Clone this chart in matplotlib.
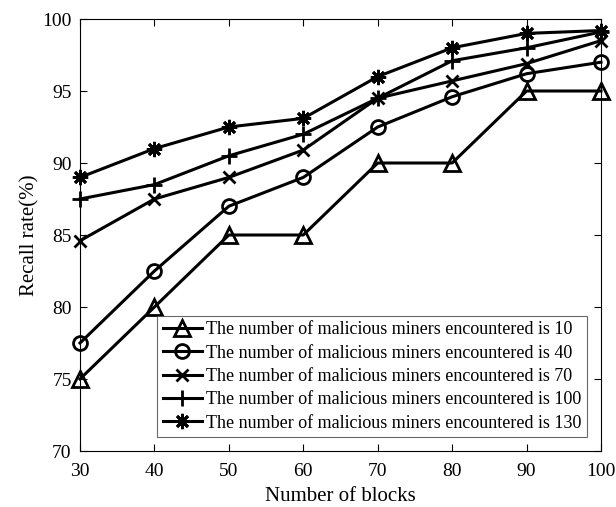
import matplotlib
matplotlib.use("Agg")
import matplotlib.pyplot as plt

plt.rcParams['font.family'] = ['Liberation Serif', 'DejaVu Serif']

blocks = [30, 40, 50, 60, 70, 80, 90, 100]
miners_10 = [75, 80, 85, 85, 90, 90, 95, 95]
miners_40 = [77.5, 82.5, 87, 89, 92.5, 94.6, 96.2, 97]
miners_70 = [84.6, 87.5, 89, 90.9, 94.5, 95.7, 96.9, 98.5]
miners_100 = [87.5, 88.5, 90.5, 92, 94.5, 97.1, 98, 99.1]
miners_130 = [89, 91, 92.5, 93.1, 96, 98, 99, 99.2]
labels = ["The number of malicious miners encountered is 10",
          "The number of malicious miners encountered is 40",
          "The number of malicious miners encountered is 70",
          "The number of malicious miners encountered is 100",
          "The number of malicious miners encountered is 130"]

fig = plt.figure(figsize=(6.16, 5.07), dpi=100)
ax = fig.add_axes([80/616, 1-451/507, (601-80)/616, (451-19)/507])

series = [miners_10, miners_40, miners_70, miners_100, miners_130]
markers = ['^', 'o', 'x', '+', (8, 2, 0)]
msizes = [12, 10, 8, 12, 11]
for s, m, ms, lab in zip(series, markers, msizes, labels):
    ax.plot(blocks, s, color='black', lw=2.2, marker=m, markersize=ms,
            markerfacecolor='none', markeredgecolor='black', markeredgewidth=2,
            label=lab, clip_on=False)

ax.set_xlim(30, 100)
ax.set_ylim(70, 100)
ax.set_xticks(range(30, 101, 10))
ax.set_yticks(range(70, 101, 5))
ax.tick_params(direction='in', top=True, right=True, labelsize=14, length=5, width=0.8)
ax.tick_params(axis='x', pad=9)
ax.tick_params(axis='y', pad=6)
for sp in ax.spines.values():
    sp.set_linewidth(0.8)
ax.set_xlabel("Number of blocks", fontsize=15, labelpad=5)
ax.set_ylabel("Recall rate(%)", fontsize=15, labelpad=2)
leg = ax.legend(loc='lower right', bbox_to_anchor=((587-80)/521, (451-437)/432), fontsize=13,
                frameon=True, fancybox=False, edgecolor='#444444', handlelength=2.15,
                handletextpad=0.25, borderpad=0.3, labelspacing=0.35, borderaxespad=0)
leg.get_frame().set_linewidth(0.8)
fig.savefig("out.png", dpi=100)
